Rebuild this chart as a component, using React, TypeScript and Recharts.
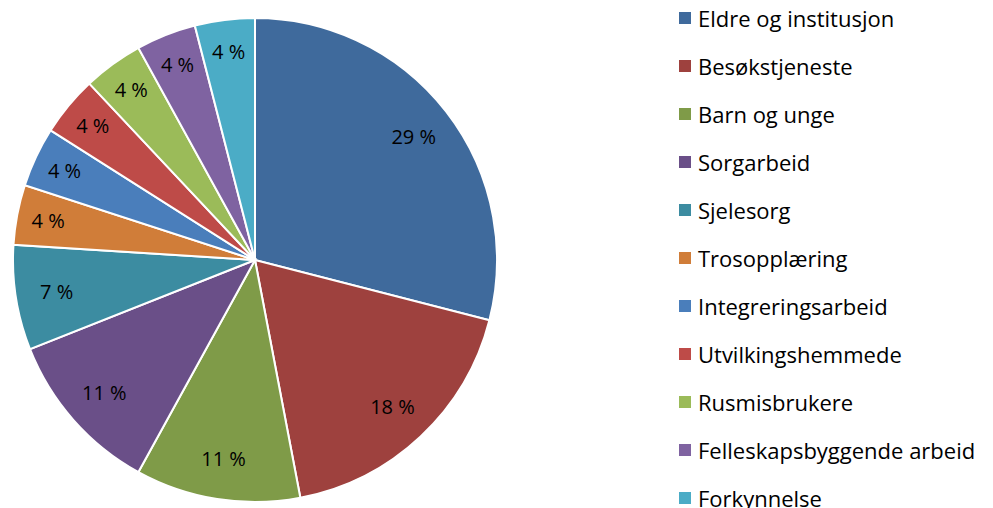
import React from 'react';
import { Legend, Pie, PieChart, Cell } from 'recharts';

const categories = [
  'Eldre og institusjon',
  'Besøkstjeneste',
  'Barn og unge',
  'Sorgarbeid',
  'Sjelesorg',
  'Trosopplæring',
  'Integreringsarbeid',
  'Utvilkingshemmede',
  'Rusmisbrukere',
  'Felleskapsbyggende arbeid',
  'Forkynnelse',
];

const shares = [29, 18, 11, 11, 7, 4, 4, 4, 4, 4, 4];

const colors = [
  '#3f6a9c',
  '#9e413e',
  '#7f9b48',
  '#6a4f88',
  '#3c8ca1',
  '#d07d39',
  '#4a7ebb',
  '#be4b48',
  '#9bbb59',
  '#7f63a1',
  '#4bacc6',
];

const data = categories.map((name, i) => ({ name, value: shares[i] }));

const FONT = '"Open Sans", Lato, sans-serif';
const RADIAN = Math.PI / 180;

function SliceLabel(props: any) {
  const { cx, cy, midAngle, outerRadius, value } = props;
  const r = outerRadius * (value < 6 ? 0.87 : 0.83);
  const x = cx + r * Math.cos(-midAngle * RADIAN);
  const y = cy + r * Math.sin(-midAngle * RADIAN);
  return (
    <text
      x={x}
      y={y}
      fill="#000"
      fontSize={20}
      fontFamily={FONT}
      textAnchor="middle"
      dominantBaseline="central"
    >
      {`${value} %`}
    </text>
  );
}

function LegendList() {
  return (
    <div style={{ fontFamily: FONT, fontSize: 22, color: '#000' }}>
      {data.map((d, i) => (
        <div
          key={d.name}
          style={{ height: 48, display: 'flex', alignItems: 'center', whiteSpace: 'nowrap' }}
        >
          <span
            style={{
              display: 'inline-block',
              width: 12,
              height: 12,
              background: colors[i],
              marginRight: 7,
            }}
          />
          <span>{d.name}</span>
        </div>
      ))}
    </div>
  );
}

export default function App() {
  return (
    <div style={{ position: 'absolute', left: 0, top: 0, width: 993, height: 508, background: '#fff', overflow: 'hidden' }}>
      <PieChart width={993} height={508} margin={{ top: 0, right: 0, bottom: 0, left: 0 }}>
        <Pie
          data={data}
          dataKey="value"
          nameKey="name"
          cx={255}
          cy={260}
          outerRadius={242}
          startAngle={90}
          endAngle={-270}
          stroke="#fff"
          strokeWidth={2}
          label={SliceLabel}
          labelLine={false}
          isAnimationActive={false}
        >
          {data.map((d, i) => (
            <Cell key={d.name} fill={colors[i]} />
          ))}
        </Pie>
        <Legend
          content={<LegendList />}
          wrapperStyle={{ position: 'absolute', left: 679, top: -6, width: 314 }}
        />
      </PieChart>
    </div>
  );
}
